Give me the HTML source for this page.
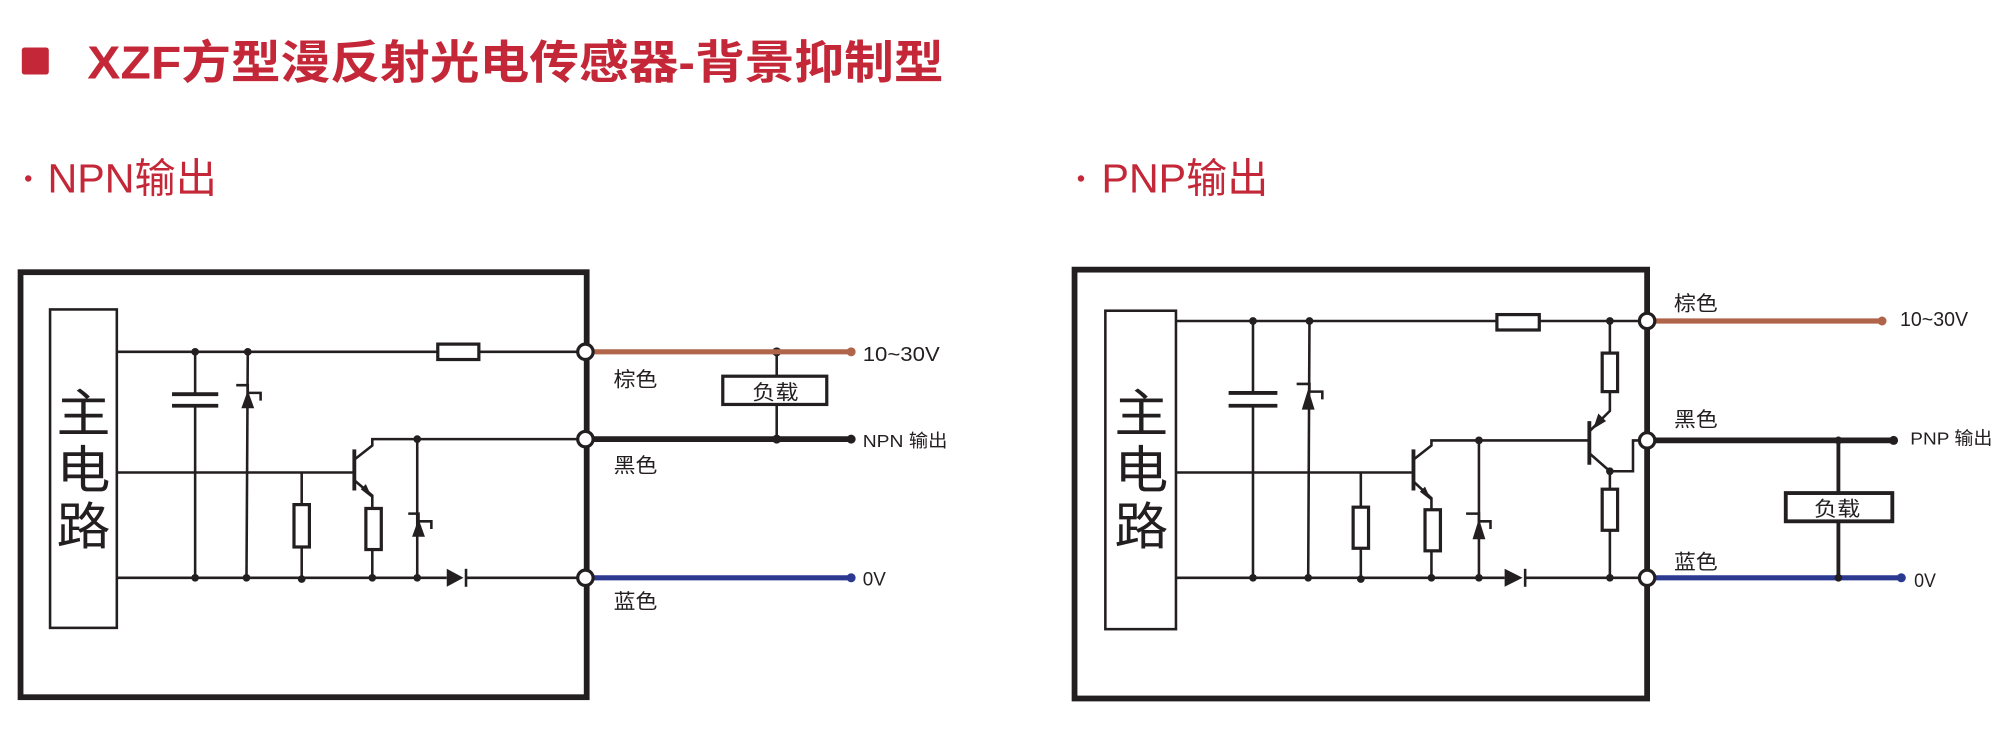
<!DOCTYPE html>
<html><head><meta charset="utf-8"><style>
html,body{margin:0;padding:0;background:#fff;}
svg{display:block;}
text{font-family:"Liberation Sans","Noto Sans CJK SC",sans-serif;}
</style></head><body>
<svg width="2013" height="746" viewBox="0 0 1568 581" preserveAspectRatio="none" xmlns="http://www.w3.org/2000/svg">
<rect x="0" y="0" width="1568" height="581" fill="#fff"/>
<!-- title -->
<rect x="17" y="37" width="21" height="21" rx="2" fill="#c42838"/>
<text x="68" y="61" font-size="36" font-weight="bold" fill="#c42838" textLength="667" lengthAdjust="spacingAndGlyphs">XZF方型漫反射光电传感器-背景抑制型</text>
<circle cx="22" cy="139" r="2.5" fill="#c42838"/>
<text x="37" y="150" font-size="32" fill="#c42838" textLength="132" lengthAdjust="spacingAndGlyphs">NPN输出</text>
<circle cx="842" cy="139" r="2.5" fill="#c42838"/>
<text x="858" y="150" font-size="32" fill="#c42838" textLength="130" lengthAdjust="spacingAndGlyphs">PNP输出</text>

<g stroke="#231f20" fill="none" stroke-width="2">
<!-- ============ NPN ============ -->
<rect x="16" y="212" width="441" height="331" stroke-width="4.5"/>
<rect x="39" y="241" width="52" height="248" stroke-width="2"/>
<line x1="91" y1="274" x2="341" y2="274"/><line x1="373" y1="274" x2="455" y2="274"/>
<rect x="341" y="268" width="32" height="12" stroke-width="2.5"/>
<line x1="91" y1="368" x2="275" y2="368"/>
<line x1="91" y1="450" x2="348" y2="450"/><line x1="363" y1="450" x2="455" y2="450"/>
<!-- capacitor -->
<line x1="152" y1="274" x2="152" y2="307"/><line x1="152" y1="316" x2="152" y2="450"/>
<line x1="134" y1="307" x2="170" y2="307" stroke-width="3"/><line x1="134" y1="316" x2="170" y2="316" stroke-width="3"/>
<!-- photo element 1 -->
<line x1="193" y1="274" x2="192" y2="450"/>
<polyline points="184,300 193,300 193,306 203,306 203,312" stroke-width="2"/>
<!-- resistor -->
<line x1="235" y1="368" x2="235" y2="450"/>
<rect x="229" y="393" width="12" height="33" fill="#fff" stroke-width="2.5"/>
<!-- transistor -->
<line x1="276" y1="350" x2="276" y2="382" stroke-width="3"/>
<polyline points="276,358 290,347 290,342 455,342"/>
<polyline points="276,374 290,386 290,450"/>
<rect x="285" y="396" width="12" height="32" fill="#fff" stroke-width="2.5"/>
<!-- photo element 2 -->
<line x1="325" y1="342" x2="325" y2="450"/>
<polyline points="318,400 326,400 326,406 336,406 336,412" stroke-width="2"/>
<!-- load -->
<line x1="605" y1="274" x2="605" y2="342"/>
<rect x="563" y="293" width="81" height="22" fill="#fff" stroke-width="2.5"/>

<!-- ============ PNP ============ -->
<rect x="837" y="210" width="446" height="334" stroke-width="4.5"/>
<rect x="861" y="242" width="55" height="248"/>
<line x1="916" y1="250" x2="1166" y2="250"/><line x1="1199" y1="250" x2="1283" y2="250"/>
<rect x="1166" y="245" width="33" height="12" stroke-width="2.5"/>
<line x1="916" y1="368" x2="1100" y2="368"/>
<line x1="916" y1="450" x2="1172" y2="450"/><line x1="1188" y1="450" x2="1283" y2="450"/>
<line x1="976" y1="250" x2="976" y2="306"/><line x1="976" y1="316" x2="976" y2="450"/>
<line x1="957" y1="306" x2="995" y2="306" stroke-width="3"/><line x1="957" y1="316" x2="995" y2="316" stroke-width="3"/>
<line x1="1020" y1="250" x2="1019" y2="450"/>
<polyline points="1010,299 1020,299 1020,305 1030,305 1030,311"/>
<line x1="1060" y1="368" x2="1060" y2="450"/>
<rect x="1054" y="395" width="12" height="32" fill="#fff" stroke-width="2.5"/>
<line x1="1101" y1="350" x2="1101" y2="382" stroke-width="3"/>
<polyline points="1101,358 1115,347 1115,343 1237,343"/>
<polyline points="1101,375 1115,388 1115,450"/>
<rect x="1110" y="397" width="12" height="32" fill="#fff" stroke-width="2.5"/>
<line x1="1152" y1="343" x2="1152" y2="450"/>
<polyline points="1142,400 1152,400 1152,406 1161,406 1161,412"/>
<!-- T2 -->
<line x1="1238" y1="328" x2="1238" y2="362" stroke-width="3"/>
<polyline points="1238,336 1254,320 1254,250"/>
<rect x="1248" y="275" width="12" height="30" fill="#fff" stroke-width="2.5"/>
<polyline points="1238,353 1254,367 1272,367 1272,343 1283,343"/>
<line x1="1254" y1="367" x2="1254" y2="450"/>
<rect x="1248" y="381" width="12" height="32" fill="#fff" stroke-width="2.5"/>
<line x1="1432" y1="343" x2="1432" y2="450" stroke-width="3"/>
<rect x="1391" y="384" width="83" height="22" fill="#fff" stroke-width="3"/>
</g>

<!-- arrows -->
<g fill="#231f20">
<polygon points="193,304 188,318 198,318"/>
<polygon points="326,404 321,418 331,418"/>
<polygon points="290,388 281,381 285,377"/>
<polygon points="348,443 348,457 361,450"/>
<rect x="362" y="443" width="2" height="14"/>
<polygon points="1019,303 1014,319 1024,319"/>
<polygon points="1152,404 1147,420 1157,420"/>
<polygon points="1115,390 1106,383 1110,379"/>
<polygon points="1172,443 1172,457 1186,450"/>
<rect x="1187" y="443" width="2" height="14"/>
<polygon points="1241,334 1245,322 1251,328"/>
<!-- junction dots -->
<circle cx="152" cy="274" r="3"/><circle cx="193" cy="274" r="3"/>
<circle cx="152" cy="450" r="3"/><circle cx="192" cy="450" r="3"/><circle cx="235" cy="451" r="3"/><circle cx="290" cy="450" r="3"/><circle cx="325" cy="450" r="3"/>
<circle cx="325" cy="342" r="3"/><circle cx="605" cy="274" r="3.5"/><circle cx="605" cy="342" r="3.5"/>
<circle cx="976" cy="250" r="3"/><circle cx="1020" cy="250" r="3"/><circle cx="1254" cy="250" r="3"/>
<circle cx="976" cy="450" r="3"/><circle cx="1019" cy="450" r="3"/><circle cx="1060" cy="451" r="3"/><circle cx="1115" cy="450" r="3"/><circle cx="1152" cy="450" r="3"/><circle cx="1254" cy="450" r="3"/>
<circle cx="1152" cy="343" r="3"/><circle cx="1254" cy="367" r="3"/>
</g>

<!-- output wires -->
<line x1="461" y1="274" x2="663" y2="274" stroke="#b0654a" stroke-width="4"/><circle cx="663" cy="274" r="3.5" fill="#b0654a"/>
<line x1="461" y1="342" x2="663" y2="342" stroke="#231f20" stroke-width="4.5"/><circle cx="663" cy="342" r="3.5" fill="#231f20"/>
<line x1="461" y1="450" x2="663" y2="450" stroke="#2b3990" stroke-width="4"/><circle cx="663" cy="450" r="3.5" fill="#2b3990"/>
<line x1="1289" y1="250" x2="1466" y2="250" stroke="#b0654a" stroke-width="4"/><circle cx="1466" cy="250" r="3.5" fill="#b0654a"/>
<line x1="1289" y1="343" x2="1475" y2="343" stroke="#231f20" stroke-width="4.5"/><circle cx="1475" cy="343" r="3.5" fill="#231f20"/>
<line x1="1289" y1="450" x2="1481" y2="450" stroke="#2b3990" stroke-width="4"/><circle cx="1481" cy="450" r="3.5" fill="#2b3990"/>
<circle cx="1432" cy="343" r="3" fill="#231f20"/><circle cx="1432" cy="450" r="3" fill="#231f20"/>

<!-- terminals -->
<g fill="#fff" stroke="#231f20" stroke-width="2.5">
<circle cx="456" cy="274" r="6"/><circle cx="456" cy="342" r="6"/><circle cx="456" cy="450" r="6"/>
<circle cx="1283" cy="250" r="6"/><circle cx="1283" cy="343" r="6"/><circle cx="1283" cy="450" r="6"/>
</g>

<!-- labels -->
<g fill="#231f20">
<text x="44" y="336" font-size="40" textLength="42" lengthAdjust="spacingAndGlyphs">主</text>
<text x="44" y="380" font-size="40" textLength="42" lengthAdjust="spacingAndGlyphs">电</text>
<text x="44" y="424" font-size="40" textLength="42" lengthAdjust="spacingAndGlyphs">路</text>
<text x="868" y="336" font-size="40" textLength="42" lengthAdjust="spacingAndGlyphs">主</text>
<text x="868" y="380" font-size="40" textLength="42" lengthAdjust="spacingAndGlyphs">电</text>
<text x="868" y="424" font-size="40" textLength="42" lengthAdjust="spacingAndGlyphs">路</text>
<text x="586" y="311" font-size="16" textLength="36" lengthAdjust="spacingAndGlyphs">负载</text>
<text x="1413" y="402" font-size="16" textLength="36" lengthAdjust="spacingAndGlyphs">负载</text>
<text x="478" y="301" font-size="16" textLength="34" lengthAdjust="spacingAndGlyphs">棕色</text>
<text x="478" y="368" font-size="16" textLength="34" lengthAdjust="spacingAndGlyphs">黑色</text>
<text x="478" y="474" font-size="16" textLength="34" lengthAdjust="spacingAndGlyphs">蓝色</text>
<text x="672" y="281" font-size="16" textLength="60" lengthAdjust="spacingAndGlyphs">10~30V</text>
<text x="672" y="348" font-size="14" textLength="66" lengthAdjust="spacingAndGlyphs">NPN 输出</text>
<text x="672" y="456" font-size="15" textLength="18" lengthAdjust="spacingAndGlyphs">0V</text>
<text x="1304" y="242" font-size="16" textLength="34" lengthAdjust="spacingAndGlyphs">棕色</text>
<text x="1304" y="332" font-size="16" textLength="34" lengthAdjust="spacingAndGlyphs">黑色</text>
<text x="1304" y="443" font-size="16" textLength="34" lengthAdjust="spacingAndGlyphs">蓝色</text>
<text x="1480" y="254" font-size="16" textLength="53" lengthAdjust="spacingAndGlyphs">10~30V</text>
<text x="1488" y="346" font-size="14" textLength="64" lengthAdjust="spacingAndGlyphs">PNP 输出</text>
<text x="1491" y="457" font-size="15" textLength="17" lengthAdjust="spacingAndGlyphs">0V</text>
</g>
</svg>
</body></html>
